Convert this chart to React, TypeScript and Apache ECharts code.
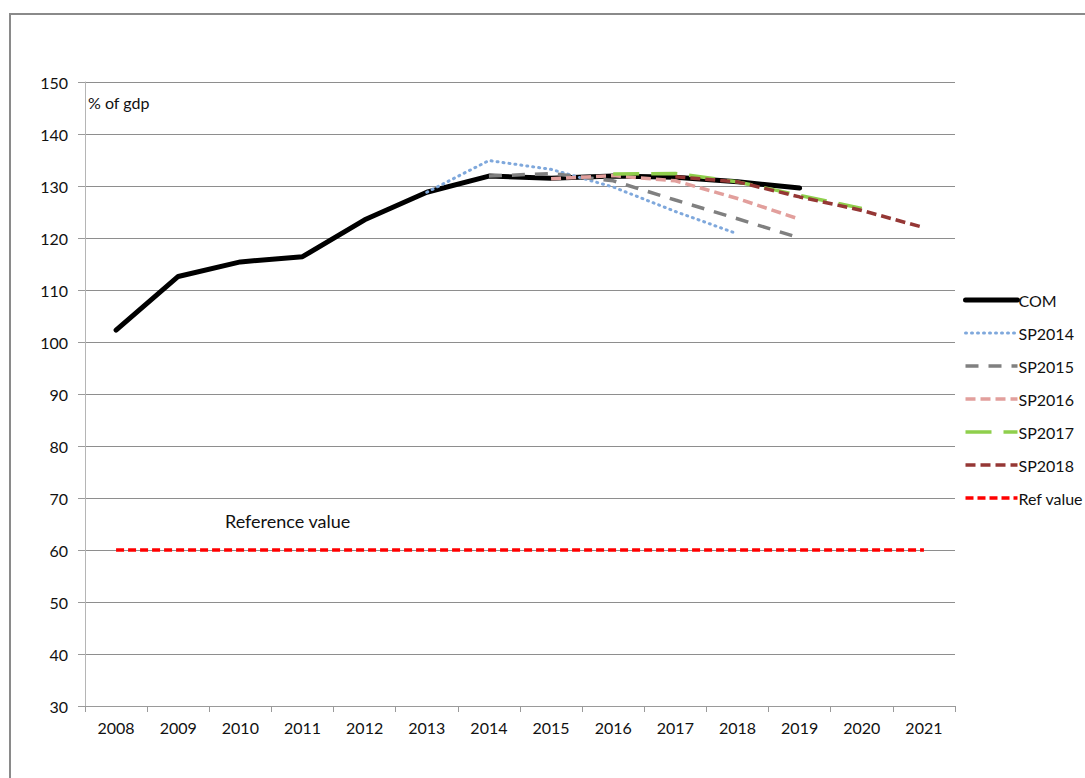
import React, { useEffect, useRef } from "react";
import * as echarts from "echarts";

const years = ["2008", "2009", "2010", "2011", "2012", "2013", "2014", "2015", "2016", "2017", "2018", "2019", "2020", "2021"];
const com = [102.3, 112.6, 115.4, 116.4, 123.5, 128.8, 131.9, 131.5, 131.9, 131.7, 130.8, 129.6, null, null];
const sp2014 = [null, null, null, null, null, 128.8, 134.9, 133.2, 129.8, 125.1, 120.8, null, null, null];
const sp2015 = [null, null, null, null, null, null, 131.9, 132.4, 131.0, 127.3, 123.7, 120.0, null, null];
const sp2016 = [null, null, null, null, null, null, null, 131.4, 132.0, 131.0, 127.6, 123.6, null, null];
const sp2017 = [null, null, null, null, null, null, null, null, 132.3, 132.4, 130.8, 128.2, 125.7, null];
const sp2018 = [null, null, null, null, null, null, null, null, null, 131.8, 130.8, 127.9, 125.3, 122.0];
const refValue = [60, 60, 60, 60, 60, 60, 60, 60, 60, 60, 60, 60, 60, 60];

const FONT = "Lato, 'Open Sans', sans-serif";

export default function App() {
  const ref = useRef<HTMLDivElement>(null);
  useEffect(() => {
    if (!ref.current) return;
    const chart = echarts.init(ref.current, undefined, { renderer: "svg" });
    const mk = (name: string, data: (number | null)[], color: string, width: number, type: any, cap: any = "butt") => ({
      name,
      type: "line",
      data,
      symbol: "none",
      connectNulls: false,
      lineStyle: { color, width, type, cap },
      itemStyle: { color },
    });
    chart.setOption({
      animation: false,
      backgroundColor: "#ffffff",
      textStyle: { fontFamily: FONT },
      grid: { left: 85, right: 130, top: 82, bottom: 72 },
      legend: {
        orient: "vertical",
        left: 958,
        top: 287,
        itemWidth: 52,
        itemHeight: 14,
        itemGap: 17,
        itemStyle: { opacity: 0 },
        lineStyle: { width: "inherit" },
        textStyle: { fontSize: 16, color: "#111", fontFamily: FONT, padding: [0, 0, 0, -4] },
        data: ["COM", "SP2014", "SP2015", "SP2016", "SP2017", "SP2018", "Ref value"],
      },
      xAxis: {
        type: "category",
        data: years,
        boundaryGap: true,
        axisLine: { lineStyle: { color: "#9a9a9a", width: 1 } },
        axisTick: { show: true, length: 6, lineStyle: { color: "#9a9a9a" } },
        axisLabel: { color: "#111", fontSize: 16, margin: 13, fontFamily: FONT },
        splitLine: { show: false },
      },
      yAxis: {
        type: "value",
        min: 30,
        max: 150,
        interval: 10,
        axisLine: { show: true, lineStyle: { color: "#b5b5b5", width: 1 } },
        axisTick: { show: true, length: 7, lineStyle: { color: "#9a9a9a" } },
        axisLabel: { color: "#111", fontSize: 16, margin: 17, fontFamily: FONT },
        splitLine: { show: true, lineStyle: { color: "#8e8e8e", width: 1 } },
      },
      graphic: [
        {
          type: "rect",
          shape: { x: 10, y: 14, width: 1200, height: 1000 },
          style: { fill: "none", stroke: "#8a8a8a", lineWidth: 2 },
          silent: true,
        },
        {
          type: "text",
          left: 88,
          top: 94,
          style: { text: "% of gdp", fontSize: 16, fill: "#111", fontFamily: FONT },
        },
        {
          type: "text",
          left: 225,
          top: 512,
          style: { text: "Reference value", fontSize: 18, fill: "#111", fontFamily: FONT },
        },
      ],
      series: [
        mk("COM", com, "#000000", 5, "solid", "round"),
        mk("SP2014", sp2014, "#7fa8dc", 3, [1, 5], "round"),
        mk("SP2015", sp2015, "#808080", 3.5, [13, 10]),
        mk("SP2016", sp2016, "#e29f9c", 3.5, [10, 5]),
        mk("SP2017", sp2017, "#8fcf4c", 3.5, [26, 12]),
        mk("SP2018", sp2018, "#953735", 3.5, [10, 5]),
        mk("Ref value", refValue, "#ff0000", 3.5, [8, 4]),
      ],
    });
    return () => chart.dispose();
  }, []);
  return (
    <div
      ref={ref}
      style={{ position: "fixed", left: 0, top: 0, width: 1085, height: 778, background: "#fff" }}
    />
  );
}
